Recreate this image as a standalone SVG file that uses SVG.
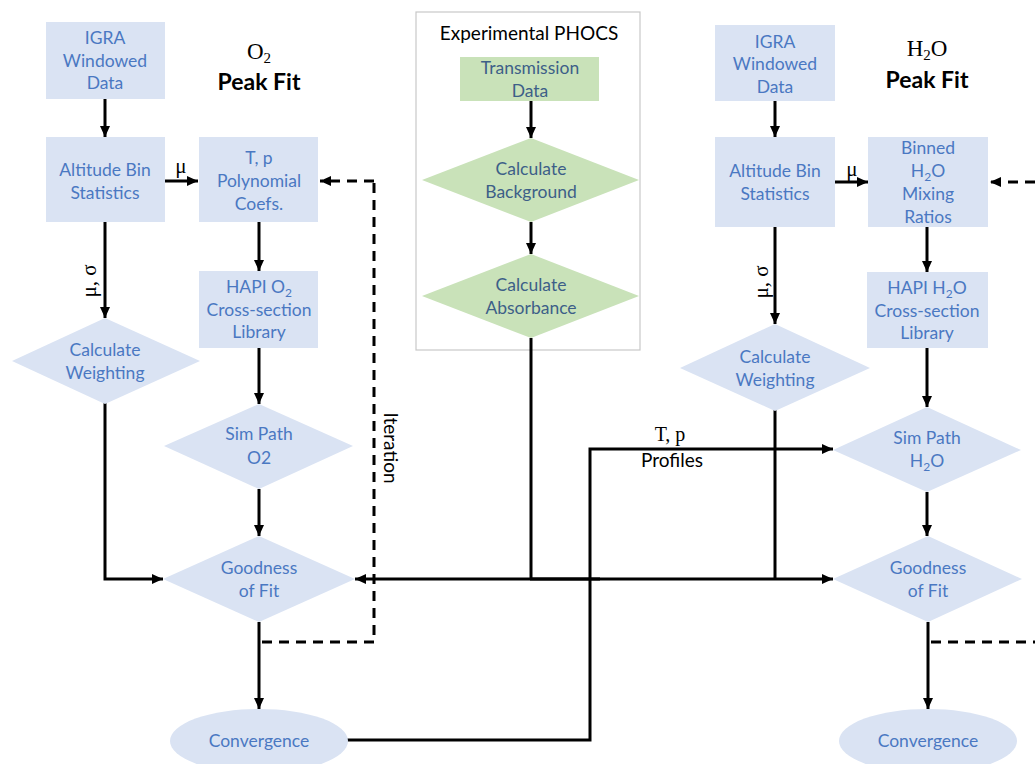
<svg xmlns="http://www.w3.org/2000/svg" width="1035" height="764" viewBox="0 0 1035 764">
<defs>
<style>
.bx{fill:#dae3f3}
.gr{fill:#c9e2b9}
.t{font-family:Lato,"Open Sans",sans-serif;font-size:17.5px;fill:#4a78c2;text-anchor:middle}
.tg{font-family:Lato,"Open Sans",sans-serif;font-size:17.5px;fill:#3d5f88;text-anchor:middle}
.k{font-family:Lato,"Open Sans",sans-serif;font-size:19px;fill:#000;text-anchor:middle}
.s{font-family:"Liberation Serif",serif;fill:#000;text-anchor:middle}
.b{font-family:Lato,"Open Sans",sans-serif;font-size:23px;font-weight:bold;fill:#000;text-anchor:middle}
.ln{fill:none;stroke:#000;stroke-width:3}
.ds{fill:none;stroke:#000;stroke-width:3;stroke-dasharray:10,7}
</style>
<marker id="ah" markerUnits="userSpaceOnUse" markerWidth="11" markerHeight="10" refX="11" refY="5" orient="auto">
<path d="M0,0 L11,5 L0,10 z" fill="#000"/>
</marker>
</defs>
<rect width="1035" height="764" fill="#fff"/>

<g id="labels">
<text class="s" x="259" y="59" font-size="23">O<tspan font-size="15" dy="4">2</tspan></text>
<text class="b" x="259" y="90">Peak Fit</text>
<text class="s" x="927" y="56" font-size="23">H<tspan font-size="15" dy="4">2</tspan><tspan dy="-4">O</tspan></text>
<text class="b" x="927" y="88">Peak Fit</text>
<text class="s" x="181" y="173" font-size="21">μ</text>
<text class="s" x="852" y="176" font-size="21">μ</text>
<text class="s" font-size="21" transform="translate(96,281) rotate(-90)">μ, σ</text>
<text class="s" font-size="21" transform="translate(768,282) rotate(-90)">μ, σ</text>
<text class="k" font-size="20" transform="translate(384,448) rotate(90)">Iteration</text>
<text class="s" x="670" y="441" font-size="20">T, p</text>
<text class="k" x="672" y="467">Profiles</text>
</g>

<g id="phocs">
<rect x="416" y="12" width="224" height="338" fill="#fff" stroke="#c8c8c8" stroke-width="1.2"/>
<text class="k" x="529" y="40" font-size="22.5">Experimental PHOCS</text>
</g>

<g id="connectors">
<line class="ln" x1="105" y1="99" x2="105" y2="137" marker-end="url(#ah)"/>
<line class="ln" x1="165" y1="181" x2="198" y2="181" marker-end="url(#ah)"/>
<line class="ln" x1="105" y1="222" x2="105" y2="318" marker-end="url(#ah)"/>
<line class="ln" x1="259" y1="222" x2="259" y2="271" marker-end="url(#ah)"/>
<line class="ln" x1="259" y1="347" x2="259" y2="404" marker-end="url(#ah)"/>
<line class="ln" x1="259" y1="489" x2="259" y2="536" marker-end="url(#ah)"/>
<polyline class="ln" points="105,403 105,579 163,579" marker-end="url(#ah)"/>
<line class="ln" x1="259" y1="622" x2="259" y2="709" marker-end="url(#ah)"/>
<polyline class="ds" points="262,642 374,642 374,181"/>
<line class="ds" x1="374" y1="181" x2="320" y2="181" marker-end="url(#ah)"/>
<line class="ln" x1="531" y1="101" x2="531" y2="138" marker-end="url(#ah)"/>
<line class="ln" x1="531" y1="222" x2="531" y2="254" marker-end="url(#ah)"/>
<line class="ln" x1="531" y1="338" x2="531" y2="579"/>
<line class="ln" x1="600" y1="579" x2="355" y2="579" marker-end="url(#ah)"/>
<line class="ln" x1="530" y1="579" x2="833" y2="579" marker-end="url(#ah)"/>
<polyline class="ln" points="347,740 590,740 590,449 833,449" marker-end="url(#ah)"/>
<line class="ln" x1="775" y1="101" x2="775" y2="137" marker-end="url(#ah)"/>
<line class="ln" x1="835" y1="182" x2="868" y2="182" marker-end="url(#ah)"/>
<line class="ln" x1="775" y1="227" x2="775" y2="324" marker-end="url(#ah)"/>
<line class="ln" x1="775" y1="410" x2="775" y2="580"/>
<line class="ln" x1="927" y1="227" x2="927" y2="272" marker-end="url(#ah)"/>
<line class="ln" x1="927" y1="348" x2="927" y2="407" marker-end="url(#ah)"/>
<line class="ln" x1="927" y1="492" x2="927" y2="536" marker-end="url(#ah)"/>
<line class="ln" x1="928" y1="622" x2="928" y2="709" marker-end="url(#ah)"/>
<line class="ds" x1="931" y1="642" x2="1035" y2="642"/>
<line class="ds" x1="1035" y1="182" x2="990" y2="182" stroke-dasharray="12,8" marker-end="url(#ah)"/>
</g>

<g id="igra-o2"><rect class="bx" x="46" y="22" width="119" height="77"/>
<text class="t" x="105" y="44">IGRA</text><text class="t" x="105" y="67">Windowed</text><text class="t" x="105" y="89">Data</text></g>
<g id="alt-o2"><rect class="bx" x="46" y="137" width="119" height="85"/>
<text class="t" x="105" y="176">Altitude Bin</text><text class="t" x="105" y="199">Statistics</text></g>
<g id="tp-coefs"><rect class="bx" x="199" y="137" width="119" height="85"/>
<text class="t" x="259" y="164">T, p</text><text class="t" x="259" y="187">Polynomial</text><text class="t" x="259" y="210">Coefs.</text></g>
<g id="hapi-o2"><rect class="bx" x="199" y="271" width="119" height="77"/>
<text class="t" x="259" y="293">HAPI O<tspan font-size="12" dy="4">2</tspan></text><text class="t" x="259" y="316">Cross-section</text><text class="t" x="259" y="338">Library</text></g>
<g id="weight-o2"><polygon class="bx" points="105,318 200,361 105,404 12,361"/>
<text class="t" x="105" y="356">Calculate</text><text class="t" x="105" y="379">Weighting</text></g>
<g id="sim-o2"><polygon class="bx" points="259,404 353,446 259,489 164,446"/>
<text class="t" x="259" y="440">Sim Path</text><text class="t" x="259" y="464">O2</text></g>
<g id="gof-o2"><polygon class="bx" points="259,536 355,579 259,622 163,579"/>
<text class="t" x="259" y="574">Goodness</text><text class="t" x="259" y="597">of Fit</text></g>
<g id="conv-o2"><ellipse class="bx" cx="259" cy="741" rx="89" ry="32"/>
<text class="t" x="259" y="747">Convergence</text></g>

<g id="transmission"><rect class="gr" x="460" y="57" width="139" height="44"/>
<text class="tg" x="530" y="74">Transmission</text><text class="tg" x="530" y="97">Data</text></g>
<g id="background"><polygon class="gr" points="531,138 639,180 531,222 422,180"/>
<text class="tg" x="531" y="175">Calculate</text><text class="tg" x="531" y="198">Background</text></g>
<g id="absorbance"><polygon class="gr" points="531,254 639,296 531,338 422,296"/>
<text class="tg" x="531" y="291">Calculate</text><text class="tg" x="531" y="314">Absorbance</text></g>

<g id="igra-h2o"><rect class="bx" x="715" y="25" width="120" height="76"/>
<text class="t" x="775" y="48">IGRA</text><text class="t" x="775" y="70">Windowed</text><text class="t" x="775" y="93">Data</text></g>
<g id="alt-h2o"><rect class="bx" x="715" y="137" width="120" height="90"/>
<text class="t" x="775" y="177">Altitude Bin</text><text class="t" x="775" y="200">Statistics</text></g>
<g id="binned"><rect class="bx" x="868" y="137" width="120" height="90"/>
<text class="t" x="928" y="154">Binned</text><text class="t" x="928" y="177">H<tspan font-size="12" dy="4">2</tspan><tspan dy="-4">O</tspan></text><text class="t" x="928" y="200">Mixing</text><text class="t" x="928" y="223">Ratios</text></g>
<g id="hapi-h2o"><rect class="bx" x="867" y="272" width="121" height="76"/>
<text class="t" x="927" y="294">HAPI H<tspan font-size="12" dy="4">2</tspan><tspan dy="-4">O</tspan></text><text class="t" x="927" y="317">Cross-section</text><text class="t" x="927" y="339">Library</text></g>
<g id="weight-h2o"><polygon class="bx" points="775,324 870,368 775,411 680,368"/>
<text class="t" x="775" y="363">Calculate</text><text class="t" x="775" y="386">Weighting</text></g>
<g id="sim-h2o"><polygon class="bx" points="927,407 1021,450 927,492 833,450"/>
<text class="t" x="927" y="444">Sim Path</text><text class="t" x="927" y="467">H<tspan font-size="12" dy="4">2</tspan><tspan dy="-4">O</tspan></text></g>
<g id="gof-h2o"><polygon class="bx" points="928,536 1022,579 928,622 833,579"/>
<text class="t" x="928" y="574">Goodness</text><text class="t" x="928" y="597">of Fit</text></g>
<g id="conv-h2o"><ellipse class="bx" cx="928" cy="741" rx="89" ry="32"/>
<text class="t" x="928" y="747">Convergence</text></g>
</svg>
